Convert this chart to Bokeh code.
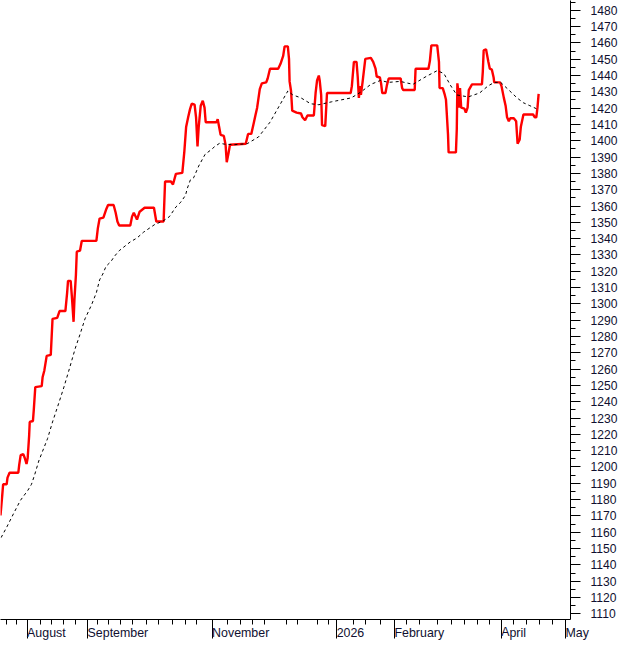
from bokeh.plotting import figure
from bokeh.models import Range1d, FixedTicker, SingleIntervalTicker
from bokeh.embed import file_html
from bokeh.resources import INLINE

# ---- data (x = trading-session position, y = price) ----
close_t = [0.0, 0.6, 0.9, 2.1, 2.4, 3.1, 6.1, 6.4, 6.9, 7.8, 8.3, 8.9, 9.3, 9.8, 10.0,
           11.1, 11.4, 11.9, 14.1, 14.4, 15.0, 15.8, 17.2, 17.8, 19.4, 20.2, 22.2, 22.8,
           23.1, 24.0, 24.4, 25.0, 25.3, 25.8, 26.1, 27.2, 27.8, 32.8, 33.3, 33.9, 35.2,
           36.1, 36.8, 38.7, 39.4, 40.0, 40.6, 44.4, 45.0, 45.6, 46.7, 47.6, 49.3, 52.5,
           53.3, 55.8, 56.3, 58.3, 59.0, 60.0, 62.2, 62.9, 63.5, 64.2, 64.8, 65.4, 66.4,
           66.9, 67.4, 67.8, 68.5, 69.2, 69.8, 70.2, 73.9, 74.3, 74.8, 75.3, 76.4, 77.0,
           77.4, 78.0, 78.5, 83.9, 84.7, 85.8, 86.7, 87.2, 87.8, 88.7, 89.4, 90.9, 91.4,
           92.2, 95.0, 95.8, 96.7, 97.2, 98.3, 98.7, 98.9, 99.4, 99.8, 101.3, 102.8, 103.3,
           104.2, 105.0, 107.2, 107.8, 108.3, 108.9, 109.2, 109.7, 110.0, 111.1, 111.7,
           119.8, 120.2, 120.9, 121.8, 122.2, 122.6, 123.0, 123.3, 123.9, 124.8, 126.7,
           127.5, 128.3, 128.7, 129.8, 130.2, 130.6, 131.7, 132.2, 132.8, 136.9, 137.4,
           137.8, 141.7, 142.0, 146.4, 146.9, 147.4, 149.4, 150.0, 150.2, 151.3, 152.0,
           152.4, 153.1, 153.3, 155.8, 156.1, 156.3, 156.7, 157.0, 157.2, 157.6, 158.7,
           159.2, 159.8, 160.2, 161.3, 164.7, 165.0, 165.3, 166.1, 166.9, 167.4, 168.1,
           168.7, 168.9, 170.9, 171.4, 172.2, 172.8, 173.3, 173.9, 174.4, 175.6, 176.4,
           176.9, 177.6, 178.0, 178.9, 182.2, 182.8, 183.3, 183.7, 184.1]
close = [1170.3, 1182.8, 1189.4, 1189.4, 1193.5, 1196.5, 1196.5, 1201.3, 1207.3, 1207.9,
         1205.5, 1201.9, 1205.5, 1219.2, 1227.6, 1228.2, 1235.3, 1249.0, 1249.6, 1255.0,
         1259.2, 1268.1, 1268.7, 1290.8, 1291.4, 1295.6, 1295.6, 1306.9, 1314.1, 1314.1,
         1305.1, 1289.0, 1302.8, 1317.7, 1332.0, 1332.6, 1338.6, 1338.6, 1346.3, 1352.3,
         1352.9, 1357.7, 1360.6, 1360.6, 1355.9, 1350.5, 1348.1, 1348.1, 1353.5, 1355.9,
         1351.7, 1356.5, 1358.9, 1358.9, 1350.5, 1350.5, 1375.0, 1375.0, 1373.2, 1379.7,
         1380.3, 1393.5, 1408.4, 1414.4, 1419.1, 1422.7, 1422.1, 1414.4, 1396.5, 1408.4,
         1421.5, 1424.5, 1420.3, 1411.4, 1411.4, 1413.2, 1408.4, 1403.6, 1403.0, 1397.6,
         1386.9, 1392.3, 1397.6, 1398.2, 1404.2, 1404.2, 1411.4, 1415.5, 1420.3, 1431.7,
         1435.2, 1435.8, 1438.2, 1444.2, 1444.2, 1447.2, 1452.0, 1457.9, 1457.9, 1450.2,
         1436.4, 1430.5, 1418.5, 1417.3, 1416.7, 1414.4, 1412.6, 1415.5, 1415.5, 1429.3,
         1437.0, 1440.0, 1437.0, 1428.1, 1409.6, 1409.0, 1429.3, 1429.3, 1433.5, 1448.4,
         1448.4, 1439.4, 1426.3, 1433.5, 1428.1, 1436.4, 1450.2, 1450.8, 1448.4, 1444.2,
         1439.4, 1438.8, 1435.2, 1429.3, 1429.3, 1434.1, 1438.2, 1438.2, 1432.3, 1431.1,
         1431.1, 1444.2, 1444.2, 1449.0, 1458.5, 1458.5, 1448.4, 1432.3, 1432.3, 1428.1,
         1425.1, 1403.6, 1392.9, 1392.9, 1407.2, 1435.2, 1429.3, 1420.3, 1432.3, 1420.3,
         1419.7, 1417.3, 1420.3, 1431.1, 1434.6, 1434.6, 1442.4, 1455.5, 1456.1, 1448.4,
         1444.2, 1443.6, 1438.8, 1435.8, 1435.8, 1433.5, 1426.3, 1421.5, 1414.4, 1412.0,
         1413.8, 1413.8, 1412.0, 1398.2, 1400.6, 1408.4, 1416.1, 1416.1, 1414.4, 1414.4,
         1420.3, 1428.7]

ma_t = [0.2, 2.3, 4.4, 6.8, 9.4, 10.6, 11.7, 13.1, 14.4, 16.1, 17.8, 19.0, 20.0, 21.7,
        23.3, 25.6, 27.2, 28.9, 31.1, 32.8, 33.9, 35.0, 36.1, 37.8, 38.9, 40.6, 44.4,
        46.7, 48.9, 52.8, 55.6, 57.8, 60.0, 61.7, 63.3, 63.9, 65.0, 66.1, 67.8, 70.0,
        72.2, 73.3, 75.0, 76.7, 80.0, 84.4, 88.3, 92.2, 95.6, 98.3, 100.0, 102.8, 106.1,
        108.9, 113.3, 120.0, 123.3, 126.7, 130.0, 132.7, 136.7, 141.1, 145.6, 149.4,
        151.7, 153.9, 156.1, 160.0, 163.9, 166.7, 168.9, 171.1, 173.9, 176.7, 178.9,
        181.1, 183.3]
ma = [1156.7, 1163.7, 1171.2, 1179.5, 1185.8, 1189.4, 1195.3, 1203.7, 1209.7, 1217.4,
      1227.6, 1234.1, 1239.5, 1249.0, 1258.6, 1272.9, 1281.3, 1290.8, 1299.2, 1306.9,
      1314.7, 1318.3, 1323.0, 1326.0, 1329.0, 1332.6, 1338.0, 1340.4, 1343.9, 1348.7,
      1350.8, 1353.5, 1359.4, 1362.4, 1366.6, 1370.8, 1376.2, 1377.4, 1384.5, 1391.7,
      1394.7, 1396.5, 1398.5, 1397.9, 1397.6, 1398.2, 1402.4, 1411.4, 1422.1, 1430.5,
      1428.1, 1426.3, 1422.7, 1422.1, 1423.9, 1426.3, 1429.9, 1434.6, 1437.0, 1435.8,
      1436.4, 1434.6, 1439.4, 1443.0, 1441.2, 1434.1, 1428.1, 1426.9, 1429.3, 1433.5,
      1435.8, 1435.8, 1431.1, 1426.3, 1423.3, 1421.5, 1419.7]

month_pos = [9.1, 29.8, 72.4, 115.0, 134.8, 171.3, 193.3]
month_names = ["August", "September", "November", "2026", "February", "April", "May"]
week_pos = [2.0, 5.6, 13.7, 17.6, 21.4, 25.6, 33.3, 37.0, 41.1, 45.0, 50.0, 53.9, 58.9,
            63.3, 67.2, 77.8, 82.0, 86.1, 90.2, 97.8, 101.7, 108.3, 112.2, 120.9, 125.0,
            130.0, 138.9, 143.3, 149.4, 154.4, 158.9, 163.3, 167.2, 175.6, 180.0, 184.4,
            188.9]

x_lo, x_hi = 0.0, 195.0
y_lo, y_hi = 1106.5, 1486.0

FONT = "Liberation Sans"
TXT = "#101030"

p = figure(width=624, height=649, output_backend="svg", toolbar_location=None,
           x_range=Range1d(x_lo, x_hi), y_range=Range1d(y_lo, y_hi),
           x_axis_location="below", y_axis_location="right",
           min_border_left=0, min_border_top=0, min_border_right=54,
           min_border_bottom=29)
p.outline_line_color = None
p.grid.visible = False
p.background_fill_color = "white"
p.border_fill_color = "white"

ya = p.yaxis[0]
ya.ticker = SingleIntervalTicker(interval=10, num_minor_ticks=2)
ya.axis_line_color = "black"
ya.major_tick_out = 10
ya.major_tick_in = 0
ya.minor_tick_out = 5
ya.minor_tick_in = 0
ya.major_tick_line_color = "black"
ya.minor_tick_line_color = "black"
ya.major_label_standoff = 10
ya.major_label_text_font = FONT
ya.major_label_text_font_size = "12.1px"
ya.major_label_text_color = TXT

xa = p.xaxis[0]
xa.ticker = FixedTicker(ticks=month_pos, minor_ticks=week_pos)
xa.major_label_overrides = {pos: name for pos, name in zip(month_pos, month_names)}
# a tiny negative angle makes Bokeh left-align the labels at their tick
xa.major_label_orientation = -0.0001
xa.major_label_standoff = -6
xa.major_label_text_font = FONT
xa.major_label_text_font_size = "12.4px"
xa.major_label_text_color = TXT
xa.axis_line_color = "black"
xa.major_tick_out = 19
xa.major_tick_in = 0
xa.minor_tick_out = 5
xa.minor_tick_in = 0
xa.major_tick_line_color = "black"
xa.minor_tick_line_color = "black"

p.line(close_t, close, line_color="#ff0000", line_width=2.4)
p.line(ma_t, ma, line_color="black", line_width=1, line_dash="3 3")

open("out.html", "w").write(file_html(p, INLINE))
